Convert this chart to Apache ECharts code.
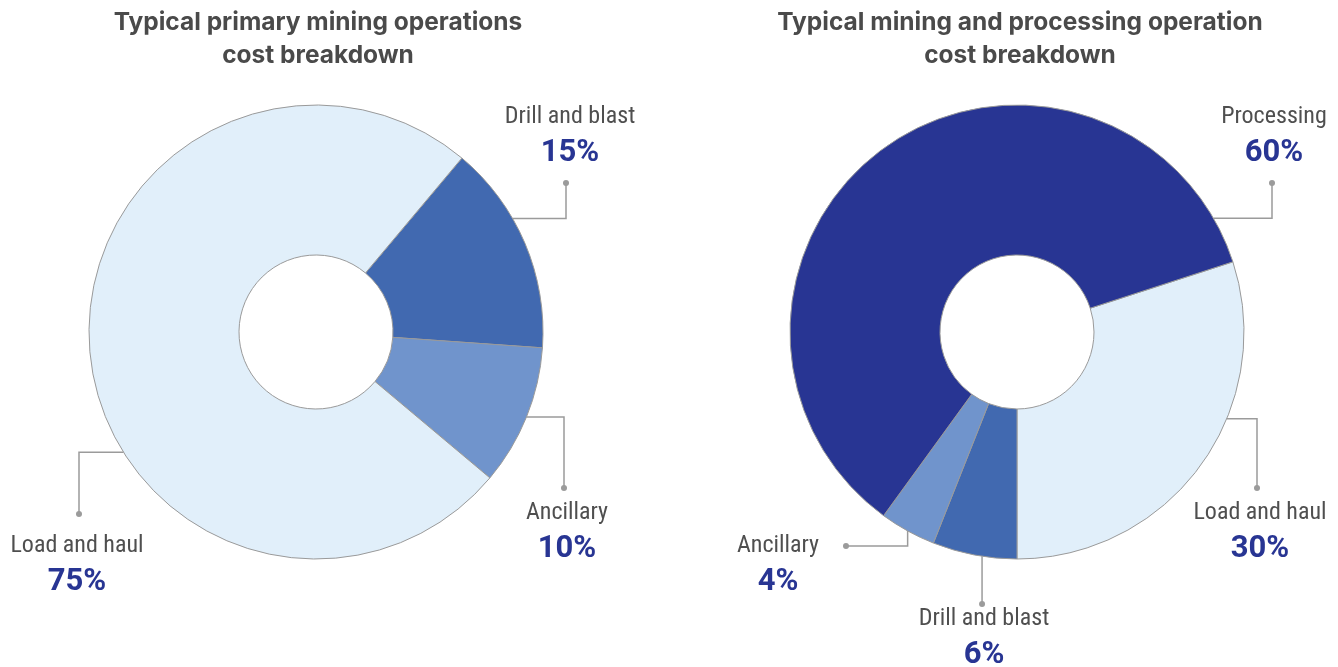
<!DOCTYPE html>
<html>
<head>
<meta charset="utf-8">
<script src="https://cdn.jsdelivr.net/npm/echarts@6/dist/echarts.min.js"></script>
<style>html,body{margin:0;padding:0;background:#fff;}#c{width:1338px;height:667px;}</style>
</head>
<body>
<div id="c"></div>
<script>
// ---- data ----
const leftTitle = 'Typical primary mining operations\ncost breakdown';
const rightTitle = 'Typical mining and processing operation\ncost breakdown';
const leftNames = ['Drill and blast', 'Ancillary', 'Load and haul'];
const leftValues = [15, 10, 75];
const rightNames = ['Load and haul', 'Drill and blast', 'Ancillary', 'Processing'];
const rightValues = [30, 6, 4, 60];

// ---- styles / layout ----
const colorMap = {
  'Drill and blast': '#4169B0',
  'Ancillary': '#7094CC',
  'Load and haul': '#E1EFFA',
  'Processing': '#283593'
};
const R_IN = 77, R_OUT = 227;
const leftCenter = [316, 332];
const rightCenter = [1017, 332];
const leftStart = 50;   // echarts startAngle (deg, ccw from 3 o'clock)
const rightStart = 18;
const LABEL_FONT = "'Roboto Condensed','Liberation Sans Narrow','DejaVu Sans Condensed',Roboto,sans-serif";

// annotation layout per slice: frac = position of anchor inside slice
const leftAnno = [
  {frac: 0.37, path: 'hv', x: 566, y: 183, lx: 570, ly: 135},
  {frac: 0.50, path: 'hv', x: 564, y: 488, lx: 567, ly: 531},
  {frac: 0.40, path: 'hv', x: 79,  y: 514, lx: 77,  ly: 564}
];
const rightAnno = [
  {frac: 0.375, path: 'hv', x: 1257, y: 488, lx: 1260, ly: 531},
  {frac: 0.41,  path: 'v',  x: 0,    y: 604, lx: 984,  ly: 637},
  {frac: 0.50,  path: 'vh', x: 846,  y: 546, lx: 778,  ly: 564},
  {frac: 0.944, path: 'hv', x: 1272, y: 183, lx: 1274, ly: 135}
];

function pt(c, r, deg) {
  const a = deg * Math.PI / 180;
  return [c[0] + r * Math.sin(a), c[1] - r * Math.cos(a)];
}
function sliceAngles(values, startAngle) {
  const tot = values.reduce((a, b) => a + b, 0);
  let a = 90 - startAngle;
  return values.map(v => { const s = a; a += v / tot * 360; return [s, a]; });
}
function buildGuides(values, startAngle, center, anno) {
  const out = [];
  sliceAngles(values, startAngle).forEach((se, i) => {
    const an = anno[i];
    const ang = se[0] + an.frac * (se[1] - se[0]);
    const p0 = pt(center, R_OUT, ang);
    let pts, end;
    if (an.path === 'hv') { pts = [p0, [an.x, p0[1]], [an.x, an.y]]; }
    else if (an.path === 'vh') { pts = [p0, [p0[0], an.y], [an.x, an.y]]; }
    else { pts = [p0, [p0[0], an.y]]; }
    end = pts[pts.length - 1];
    out.push({type: 'polyline', silent: true, z: 10, shape: {points: pts},
      style: {stroke: '#9b9b9b', lineWidth: 1.5, fill: null}});
    out.push({type: 'circle', silent: true, z: 11, shape: {cx: end[0], cy: end[1], r: 3},
      style: {fill: '#9b9b9b'}});
  });
  return out;
}
function makeData(names, values) {
  return names.map((n, i) => ({name: n, value: values[i], itemStyle: {color: colorMap[n]}}));
}
function makeSeries(names, values, center, startAngle, anno) {
  return {
    type: 'pie',
    radius: [R_IN, R_OUT],
    center: center,
    startAngle: startAngle,
    clockwise: true,
    avoidLabelOverlap: false,
    silent: true,
    animation: false,
    itemStyle: {borderColor: '#9a9a9a', borderWidth: 1},
    data: makeData(names, values),
    label: {
      show: true,
      position: 'outside',
      formatter: p => '{n|' + p.name + '}\n{v|' + p.value + '%}',
      rich: {
        n: {fontFamily: LABEL_FONT, fontSize: 24, color: '#4f4f4f', lineHeight: 37, align: 'center'},
        v: {fontFamily: 'Roboto', fontWeight: 'bold', fontSize: 31, color: '#283593', lineHeight: 37, align: 'center'}
      }
    },
    labelLine: {show: false},
    labelLayout: p => ({x: anno[p.dataIndex].lx, y: anno[p.dataIndex].ly, align: 'center', verticalAlign: 'middle'})
  };
}

const titleStyle = {fontFamily: 'Inter', fontWeight: 700, fontSize: 24.5, lineHeight: 33, color: '#4a4a4a'};
const chart = echarts.init(document.getElementById('c'));
chart.setOption({
  backgroundColor: '#ffffff',
  animation: false,
  title: [
    {text: leftTitle, left: 313, top: 1, textAlign: 'center', textStyle: titleStyle},
    {text: rightTitle, left: 1015, top: 1, textAlign: 'center', textStyle: titleStyle}
  ],
  series: [
    makeSeries(leftNames, leftValues, leftCenter, leftStart, leftAnno),
    makeSeries(rightNames, rightValues, rightCenter, rightStart, rightAnno)
  ],
  graphic: buildGuides(leftValues, leftStart, leftCenter, leftAnno)
    .concat(buildGuides(rightValues, rightStart, rightCenter, rightAnno))
});
</script>
</body>
</html>
